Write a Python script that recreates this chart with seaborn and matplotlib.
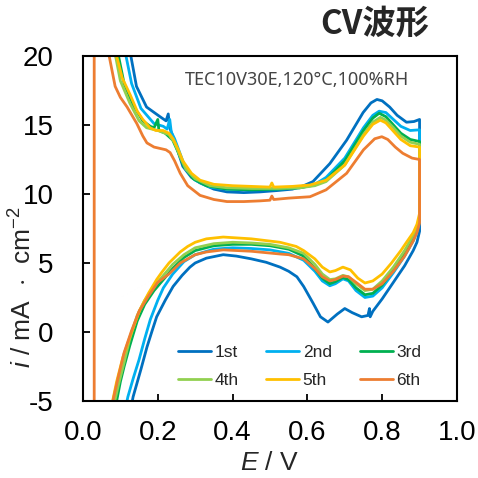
import seaborn as sns
import matplotlib.pyplot as plt
import pandas as pd
from matplotlib.lines import Line2D

# ---- data (E / V, i / mA cm-2) ----
cycles = ['1st', '2nd', '3rd', '4th', '5th', '6th']
colors = ['#0070C0', '#00B0F0', '#00B050', '#92D050', '#FFC000', '#ED7D31']

e_1st = [0.118, 0.128, 0.143, 0.17, 0.206, 0.222, 0.228, 0.232, 0.241, 0.255, 0.267, 0.29, 0.313, 0.35, 0.385,
         0.43, 0.473, 0.52, 0.56, 0.59, 0.615, 0.66, 0.705, 0.749, 0.77, 0.786, 0.80, 0.82, 0.84, 0.865, 0.885, 0.9,
         0.9, 0.893, 0.883, 0.86, 0.83, 0.80, 0.775, 0.768, 0.766, 0.762, 0.745, 0.72, 0.70, 0.68, 0.655, 0.635,
         0.615, 0.59, 0.572, 0.55, 0.527, 0.49, 0.45, 0.41, 0.375, 0.33, 0.30, 0.286, 0.265, 0.241, 0.22, 0.197,
         0.185, 0.171, 0.155, 0.134, 0.125]
i_1st = [21, 20, 17.8, 16.3, 15.6, 15.3, 15.8, 14.8, 14.1, 13.0, 12.0, 11.2, 10.8, 10.35, 10.15,
         10.1, 10.15, 10.25, 10.35, 10.6, 10.9, 12.2, 13.9, 15.9, 16.6, 16.85, 16.75, 16.3, 15.7, 15.2, 15.25, 15.4,
         7.3, 6.5, 5.9, 4.8, 3.6, 2.4, 1.5, 1.1, 1.7, 1.2, 1.1, 1.4, 1.7, 1.3, 0.72, 1.1,
         2.1, 3.3, 4.0, 4.4, 4.7, 5.05, 5.3, 5.5, 5.6, 5.35, 5.0, 4.7, 4.1, 3.3, 2.3, 1.1,
         0.1, -1.1, -2.7, -4.7, -6]

e_2nd = [0.108, 0.115, 0.13, 0.155, 0.19, 0.215, 0.225, 0.232, 0.236, 0.245, 0.26, 0.275, 0.30, 0.34, 0.385,
         0.45, 0.52, 0.58, 0.62, 0.65, 0.70, 0.75, 0.775, 0.792, 0.81, 0.83, 0.85, 0.875, 0.9,
         0.9, 0.893, 0.883, 0.86, 0.83, 0.80, 0.775, 0.754, 0.73, 0.71, 0.695, 0.675, 0.66, 0.64, 0.62, 0.59,
         0.55, 0.5, 0.45, 0.4, 0.35, 0.3, 0.27, 0.24, 0.215, 0.2, 0.18, 0.165, 0.15, 0.135, 0.12, 0.11]
i_2nd = [21, 20, 18, 16.2, 15.1, 14.9, 14.7, 15.4, 14.5, 14.0, 12.9, 11.8, 11.0, 10.5, 10.35,
         10.3, 10.35, 10.45, 10.7, 11.2, 12.6, 14.8, 15.7, 16.0, 15.9, 15.4, 14.9, 14.6, 14.65,
         8.0, 7.3, 6.6, 5.5, 4.3, 3.2, 2.6, 2.5, 3.0, 3.7, 3.85, 3.5, 3.35, 3.7, 4.4, 5.2,
         5.7, 5.95, 6.05, 6.1, 6.0, 5.6, 5.1, 4.2, 3.2, 2.3, 0.9, -0.5, -2.0, -3.3, -4.7, -6]

e_3rd = [0.09, 0.095, 0.11, 0.135, 0.16, 0.18, 0.19, 0.2, 0.203, 0.22, 0.24, 0.255, 0.27, 0.295, 0.33, 0.385,
         0.45, 0.52, 0.58, 0.62, 0.65, 0.70, 0.75, 0.775, 0.792, 0.81, 0.83, 0.85, 0.875, 0.9,
         0.9, 0.893, 0.883, 0.86, 0.83, 0.80, 0.775, 0.754, 0.73, 0.71, 0.695, 0.675, 0.66, 0.64, 0.62, 0.59,
         0.55, 0.5, 0.45, 0.4, 0.35, 0.3, 0.27, 0.24, 0.215, 0.19, 0.165, 0.145, 0.125, 0.11, 0.1, 0.09, 0.085]
i_3rd = [21, 20, 18, 16.4, 15.3, 14.9, 14.8, 15.4, 14.6, 14.4, 13.9, 13.0, 12.0, 11.1, 10.6, 10.35,
         10.3, 10.35, 10.45, 10.65, 11.0, 12.4, 14.6, 15.5, 15.85, 15.6, 15.0, 14.4, 13.95, 13.8,
         8.1, 7.4, 6.8, 5.7, 4.5, 3.4, 2.8, 2.7, 3.2, 3.8, 3.95, 3.65, 3.5, 3.9, 4.6, 5.5,
         6.0, 6.25, 6.35, 6.35, 6.25, 5.9, 5.4, 4.6, 3.8, 3.0, 2.0, 0.8, -1.0, -2.5, -3.6, -5, -6]

e_4th = [0.082, 0.087, 0.1, 0.125, 0.15, 0.17, 0.2, 0.23, 0.245, 0.26, 0.275, 0.30, 0.34, 0.385,
         0.45, 0.52, 0.58, 0.62, 0.65, 0.70, 0.75, 0.775, 0.795, 0.81, 0.83, 0.85, 0.875, 0.9,
         0.9, 0.893, 0.883, 0.86, 0.83, 0.80, 0.775, 0.754, 0.73, 0.71, 0.695, 0.675, 0.66, 0.64, 0.62, 0.59,
         0.55, 0.5, 0.45, 0.4, 0.35, 0.3, 0.27, 0.24, 0.215, 0.19, 0.165, 0.145, 0.125, 0.11, 0.095, 0.085, 0.08]
i_4th = [21, 20, 18.2, 16.6, 15.3, 14.8, 14.6, 14.3, 13.7, 12.7, 11.8, 11.1, 10.6, 10.45,
         10.4, 10.4, 10.45, 10.6, 10.9, 12.1, 14.3, 15.2, 15.55, 15.35, 14.8, 14.2, 13.75, 13.6,
         8.3, 7.6, 7.0, 5.9, 4.7, 3.7, 3.1, 3.0, 3.5, 4.0, 4.1, 3.85, 3.8, 4.2, 4.9, 5.7,
         6.1, 6.35, 6.45, 6.5, 6.4, 6.1, 5.6, 4.9, 4.1, 3.3, 2.3, 1.2, -0.5, -2.2, -3.8, -5, -6]

e_5th = [0.085, 0.09, 0.105, 0.126, 0.145, 0.16, 0.179, 0.195, 0.214, 0.23, 0.241, 0.255, 0.267, 0.29, 0.313,
         0.35, 0.40, 0.45, 0.50, 0.505, 0.51, 0.56, 0.607, 0.65, 0.70, 0.75, 0.775, 0.795, 0.81, 0.83, 0.85,
         0.875, 0.9,
         0.9, 0.893, 0.883, 0.865, 0.85, 0.825, 0.80, 0.775, 0.754, 0.735, 0.715, 0.695, 0.675, 0.66, 0.64,
         0.62, 0.59, 0.57, 0.527, 0.45, 0.375, 0.33, 0.3, 0.28, 0.26, 0.23, 0.21, 0.197, 0.175, 0.152, 0.13,
         0.107, 0.09, 0.08, 0.075]
i_5th = [21, 20, 18.4, 17.2, 16.0, 15.4, 14.8, 14.6, 14.6, 14.4, 14.0, 13.2, 12.4, 11.5, 11.0,
         10.7, 10.6, 10.55, 10.5, 10.8, 10.5, 10.55, 10.65, 11.0, 12.1, 14.2, 15.05, 15.35, 15.15, 14.55, 13.95,
         13.5, 13.4,
         8.6, 7.8, 7.2, 6.5, 5.9, 5.0, 4.2, 3.7, 3.55, 3.9, 4.5, 4.7, 4.45, 4.35, 4.7,
         5.3, 5.9, 6.2, 6.5, 6.75, 6.88, 6.75, 6.5, 6.2, 5.8, 5.0, 4.3, 3.8, 2.8, 1.6, 0.0,
         -1.8, -3.6, -4.9, -6]

e_6th = [0.066, 0.07, 0.086, 0.1, 0.118, 0.144, 0.16, 0.171, 0.19, 0.206, 0.222, 0.233, 0.245, 0.26, 0.28,
         0.313, 0.35, 0.385, 0.43, 0.473, 0.50, 0.505, 0.51, 0.55, 0.607, 0.65, 0.705, 0.75, 0.78, 0.799, 0.815,
         0.835, 0.855, 0.88, 0.9,
         0.9, 0.893, 0.883, 0.86, 0.83, 0.80, 0.775, 0.754, 0.73, 0.71, 0.695, 0.675, 0.66, 0.64, 0.62, 0.59,
         0.55, 0.527, 0.45, 0.375, 0.33, 0.3, 0.28, 0.26, 0.23, 0.2, 0.175, 0.15, 0.13, 0.11, 0.095, 0.08,
         0.07, 0.05, 0.03, 0.03]
i_6th = [21, 20, 17.8, 17.0, 16.3, 15.1, 14.2, 13.7, 13.4, 13.3, 13.2, 13.0, 12.4, 11.5, 10.6,
         9.9, 9.6, 9.45, 9.45, 9.5, 9.55, 9.85, 9.6, 9.7, 9.8, 10.3, 11.5, 13.2, 14.0, 14.15, 13.95,
         13.4, 12.95, 12.6, 12.5,
         7.9, 7.2, 6.6, 5.5, 4.4, 3.5, 3.1, 3.1, 3.6, 4.0, 4.05, 3.8, 3.7, 4.0, 4.6, 5.3,
         5.6, 5.65, 5.85, 5.95, 5.8, 5.6, 5.3, 5.0, 4.2, 3.6, 2.6, 1.5, 0.1, -1.5, -3.2, -5.0,
         -7, -9, -9, 25]

E_all = [e_1st, e_2nd, e_3rd, e_4th, e_5th, e_6th]
I_all = [i_1st, i_2nd, i_3rd, i_4th, i_5th, i_6th]

df = pd.concat([pd.DataFrame({'E': e, 'i': i, 'cycle': c}) for e, i, c in zip(E_all, I_all, cycles)],
               ignore_index=True)

sns.set_style('ticks')
plt.rcParams['font.family'] = ['Liberation Sans', 'Noto Sans CJK JP', 'DejaVu Sans']
plt.rcParams['mathtext.fontset'] = 'custom'
plt.rcParams['mathtext.rm'] = 'Liberation Sans'
plt.rcParams['mathtext.it'] = 'Liberation Sans:italic'

fig = plt.figure(figsize=(4.78, 4.78), dpi=100)
ax = fig.add_axes([0.1736, 0.1611, 0.7824, 0.7218])

sns.lineplot(data=df, x='E', y='i', hue='cycle', palette=dict(zip(cycles, colors)),
             sort=False, estimator=None, lw=2, legend=False, ax=ax)

ax.set_xlim(0, 1.0)
ax.set_ylim(-5, 20)
ax.set_xticks([0, 0.2, 0.4, 0.6, 0.8, 1.0])
ax.set_xticklabels(['0.0', '0.2', '0.4', '0.6', '0.8', '1.0'])
ax.set_yticks([-5, 0, 5, 10, 15, 20])
ax.set_yticklabels(['-5', '0', '5', '10', '15', '20'])
ax.tick_params(direction='in', length=5, width=1.3, labelsize=20, colors='black')
ax.tick_params(axis='x', pad=14)
ax.tick_params(axis='y', pad=21)
for s in ax.spines.values():
    s.set_linewidth(1.5)
    s.set_color('black')

ax.set_xlabel(r'$\it{E}$ / V', fontsize=19, labelpad=3)
ax.set_ylabel(r'$\it{i}$ / mA  $\cdot$  cm$^{-2}$', fontsize=19)
ax.yaxis.set_label_coords(-0.125, 0.33)

ax.text(0.273, 0.93, 'TEC10V30E,120°C,100%RH', transform=ax.transAxes, fontsize=13,
        color='#444444', family=['Noto Sans', 'DejaVu Sans'], va='center', ha='left')

fig.text(375 / 478, 1 - 24 / 478, 'CV波形', fontsize=24, weight='bold',
         family=['Noto Sans CJK JP', 'DejaVu Sans'], ha='center', va='center')

# legend: 3 columns, filled row by row
order = [0, 3, 1, 4, 2, 5]
handles = [Line2D([], [], color=colors[k], lw=2) for k in order]
labels = [cycles[k] for k in order]
ax.legend(handles, labels, ncol=3, loc='upper left', bbox_to_anchor=(0.254, 0.163), frameon=False,
          fontsize=12.5, handlelength=1.9, handletextpad=0.2, columnspacing=1.6, labelspacing=0.75,
          borderpad=0, borderaxespad=0)

fig.savefig('out.png', dpi=100)
